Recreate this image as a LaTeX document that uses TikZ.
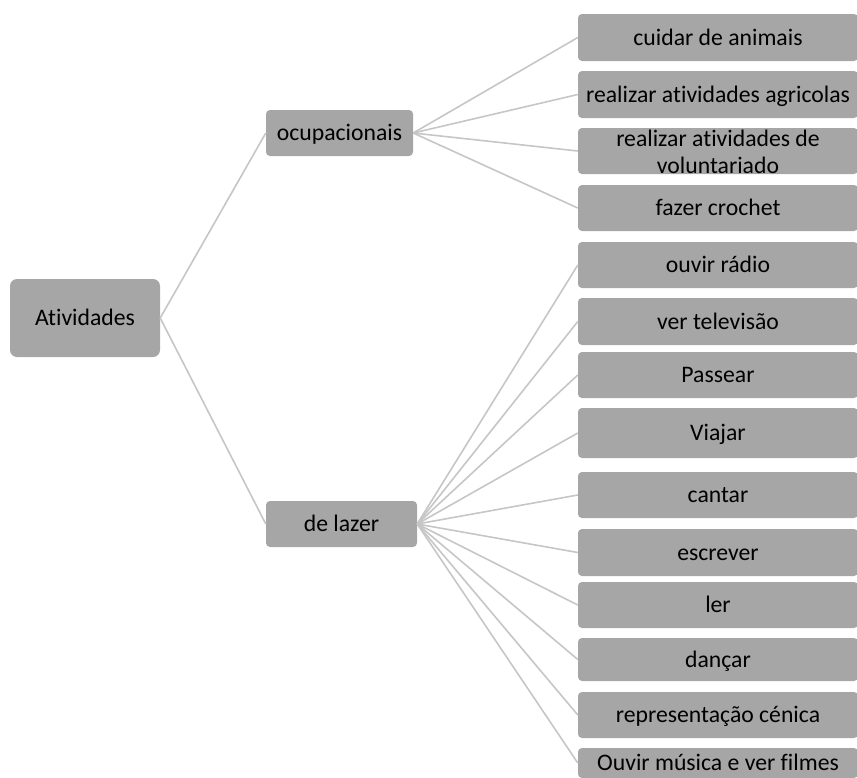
\documentclass[tikz,border=0pt]{standalone}
\usepackage{fontspec}
\setmainfont[RawFeature=-liga]{Carlito}
\definecolor{boxgray}{HTML}{A6A6A6}
\definecolor{linegray}{HTML}{C6C6C6}
\begin{document}
\begin{tikzpicture}[x=1pt,y=-1pt,
  box/.style={fill=boxgray, rounded corners=4pt, inner sep=0pt, text=black,
    font=\fontsize{23.7}{24}\selectfont, text height=17pt, text depth=2pt, align=center},
  leaf/.style={box, minimum width=280pt},
  link/.style={draw=linegray, line width=1.6pt}]
\useasboundingbox (0,0) rectangle (857,777);
% level 0 and 1
\node[box, minimum width=150pt, minimum height=78pt, rounded corners=7pt] (root) at (85,318) {Atividades};
\node[box, minimum width=147pt, minimum height=46pt] (ocup) at (339.5,133) {ocupacionais};
\node[box, minimum width=151pt, minimum height=46pt] (lazer) at (341.5,524) {de lazer};
% leaves
\node[leaf, minimum height=47pt] (r1) at (718,37.5) {cuidar de animais};
\node[leaf, minimum height=47pt] (r2) at (718,94.5) {realizar atividades agricolas};
\node[leaf, minimum height=46pt, text height=44pt, text depth=0pt] (r3) at (718,151) {realizar atividades de\\[3pt]voluntariado};
\node[leaf, minimum height=46pt] (r4) at (718,208) {fazer crochet};
\node[leaf, minimum height=46pt] (r5) at (718,265) {ouvir rádio};
\node[leaf, minimum height=47pt] (r6) at (718,321.5) {ver televisão};
\node[leaf, minimum height=46pt] (r7) at (718,375) {Passear};
\node[leaf, minimum height=50pt] (r8) at (718,433) {Viajar};
\node[leaf, minimum height=46pt] (r9) at (718,495) {cantar};
\node[leaf, minimum height=47pt] (r10) at (718,552.5) {escrever};
\node[leaf, minimum height=46pt] (r11) at (718,605) {ler};
\node[leaf, minimum height=43pt] (r12) at (718,659.5) {dançar};
\node[leaf, minimum height=46pt] (r13) at (718,715) {representação cénica};
\node[leaf, minimum height=30pt] (r14) at (718,763) {Ouvir música e ver filmes};
% connectors
\draw[link] (root.east) -- (ocup.west);
\draw[link] (root.east) -- (lazer.west);
\foreach \n in {r1,r2,r3,r4}{\draw[link] (ocup.east) -- (\n.west);}
\foreach \n in {r5,r6,r7,r8,r9,r10,r11,r12,r13,r14}{\draw[link] (lazer.east) -- (\n.west);}
\end{tikzpicture}
\end{document}
